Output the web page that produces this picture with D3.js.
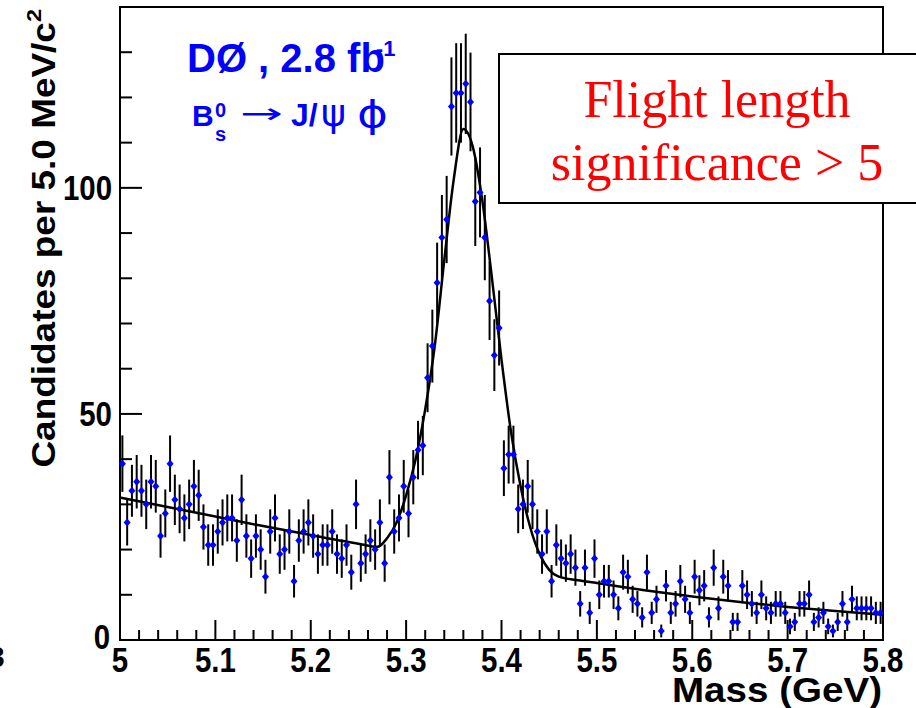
<!DOCTYPE html>
<html lang="en">
<head>
<meta charset="UTF-8">
<title>Bs mass</title>
<style>
  body { margin: 0; background: #fff; }
  text { font-family: "Liberation Sans", Arial, sans-serif; }
</style>
</head>
<body>
<script src="https://d3js.org/d3.v7.min.js"></script>
<script>

    // bin width 5 MeV, first bin starts at 5.000 GeV
    var binStart = 5.0,
        binWidth = 0.005;

    // candidates per bin
    var counts = [
        39, 26, 33, 35, 33, 30, 35, 34, 23, 28,
        39, 31, 29, 27, 30, 34, 32, 25, 21, 21,
        24, 26, 27, 27, 22, 31, 23, 18, 23, 20,
        14, 24, 27, 19, 20, 24, 13, 22, 24, 26,
        23, 19, 21, 21, 24, 19, 18, 21, 15, 30,
        17, 19, 22, 20, 26, 17, 36, 24, 27, 34,
        28, 36, 42, 43, 58, 65, 79, 89, 93, 118,
        121, 121, 123, 119, 97, 99, 89, 75, 63, 69,
        38, 41, 41, 29, 30, 34, 30, 24, 19, 24,
        13, 21, 18, 17, 19, 16, 8, 16, 6, 18,
        10, 13, 13, 10, 7, 15, 14, 9, 8, 5,
        15, 6, 9, 2, 12, 6, 8, 13, 9, 6,
        14, 11, 12, 5, 16, 7, 14, 12, 4, 4,
        12, 10, 8, 6, 10, 7, 6, 8, 8, 6,
        3, 4, 8, 8, 10, 4, 5, 6, 3, 2,
        4, 8, 4, 9, 7, 7, 7, 7, 6, 6
    ];

    // fitted curve
    var fitMass = [5.0, 5.05, 5.10, 5.15, 5.20, 5.25, 5.27, 5.28, 5.29, 5.30,
                   5.31, 5.32, 5.33, 5.34, 5.35, 5.36, 5.37, 5.38, 5.39,
                   5.40, 5.41, 5.42, 5.43, 5.44, 5.45, 5.46, 5.48, 5.50, 5.55,
                   5.60, 5.65, 5.70, 5.75, 5.80];
    var fitValue = [31.5, 29.4, 27.3, 25.2, 23.2, 21.3, 20.6, 22.5, 26, 32,
                    40, 51, 65, 84, 102, 113, 109, 97, 80,
                    62, 46, 34, 25, 19, 15.5, 14, 13.2, 12.6, 11,
                    9.6, 8.4, 7.3, 6.4, 5.6];

    var xTicks = [5, 5.1, 5.2, 5.3, 5.4, 5.5, 5.6, 5.7, 5.8];
    var yTicks = [0, 50, 100];

    var width = 916,
        height = 708,
        padLeft = 120,
        padRight = 883,
        padTop = 7,
        padBottom = 640;

    var svg = d3.select("body")
        .append("svg")
        .attr("width", width)
        .attr("height", height);

    svg.append("rect")
        .attr("width", width)
        .attr("height", height)
        .attr("fill", "#fff");

    var x = d3.scaleLinear().domain([5.0, 5.8]).range([padLeft, padRight]);
    var y = d3.scaleLinear().domain([0, 140]).range([padBottom, padTop]);

    var data = counts.map(function (c, i) {
        return {m: binStart + binWidth * (i + 0.5), n: c};
    });

    // frame
    svg.append("rect")
        .attr("x", padLeft)
        .attr("y", padTop)
        .attr("width", padRight - padLeft)
        .attr("height", padBottom - padTop)
        .attr("fill", "none")
        .attr("stroke", "#000")
        .attr("stroke-width", 2);

    // x axis ticks (inside, pointing up)
    var xMinor = d3.range(0, 41).map(function (i) { return 5.0 + i * 0.02; });
    svg.append("g").selectAll("line")
        .data(xMinor)
        .enter()
        .append("line")
        .attr("x1", function (d) { return x(d); })
        .attr("x2", function (d) { return x(d); })
        .attr("y1", padBottom)
        .attr("y2", function (d, i) { return i % 5 === 0 ? padBottom - 20 : padBottom - 10; })
        .attr("stroke", "#000")
        .attr("stroke-width", 2);

    // y axis ticks (inside, pointing right)
    var yMinor = d3.range(0, 15).map(function (i) { return i * 10; });
    svg.append("g").selectAll("line")
        .data(yMinor)
        .enter()
        .append("line")
        .attr("y1", function (d) { return y(d); })
        .attr("y2", function (d) { return y(d); })
        .attr("x1", padLeft)
        .attr("x2", function (d) { return d % 50 === 0 ? padLeft + 22 : padLeft + 12; })
        .attr("stroke", "#000")
        .attr("stroke-width", 2);

    // tick labels
    svg.append("g").selectAll("text")
        .data(xTicks)
        .enter()
        .append("text")
        .attr("transform", function (d) { return "translate(" + x(d) + ",672) scale(0.92,1.1)"; })
        .attr("text-anchor", "middle")
        .attr("font-size", "32px")
        .attr("font-weight", "bold")
        .text(function (d) { return d === 5 ? "5" : d3.format(".1f")(d); });

    svg.append("g").selectAll("text")
        .data(yTicks)
        .enter()
        .append("text")
        .attr("transform", function (d) {
            return "translate(" + (d === 0 ? 110 : 112) + "," + (y(d) + (d === 0 ? 9 : 12)) + ") scale(0.92,1.1)";
        })
        .attr("text-anchor", "end")
        .attr("font-size", "32px")
        .attr("font-weight", "bold")
        .text(function (d) { return d; });

    // stray glyph from the neighbouring panel
    svg.append("text")
        .attr("x", -12)
        .attr("y", 667)
        .attr("font-size", "30px")
        .attr("font-weight", "bold")
        .text("3");

    // axis titles
    svg.append("text")
        .attr("x", 882)
        .attr("y", 702)
        .attr("text-anchor", "end")
        .attr("font-size", "35px")
        .attr("font-weight", "bold")
        .attr("textLength", 210)
        .attr("lengthAdjust", "spacingAndGlyphs")
        .text("Mass  (GeV)");

    var ytitle = svg.append("text")
        .attr("transform", "translate(55,9) rotate(-90) scale(1.12,1)")
        .attr("text-anchor", "end")
        .attr("font-size", "33px")
        .attr("font-weight", "bold");
    ytitle.append("tspan").text("Candidates per 5.0 MeV/c");
    ytitle.append("tspan").attr("font-size", "21px").attr("dy", -14).text("2");

    // fit curve
    var fitLine = d3.line()
        .x(function (d, i) { return x(fitMass[i]); })
        .y(function (d) { return y(d); })
        .curve(d3.curveMonotoneX);

    svg.append("path")
        .datum(fitValue)
        .attr("d", fitLine)
        .attr("fill", "none")
        .attr("stroke", "#000")
        .attr("stroke-width", 2.5);

    // error bars
    svg.append("g").selectAll("line")
        .data(data)
        .enter()
        .append("line")
        .attr("x1", function (d) { return x(d.m); })
        .attr("x2", function (d) { return x(d.m); })
        .attr("y1", function (d) { return y(Math.max(0, d.n - Math.sqrt(d.n))); })
        .attr("y2", function (d) { return y(d.n + Math.sqrt(d.n)); })
        .attr("stroke", "#000")
        .attr("stroke-width", 2);

    // markers
    svg.append("g").selectAll("path")
        .data(data)
        .enter()
        .append("path")
        .attr("transform", function (d) { return "translate(" + x(d.m) + "," + y(d.n) + ")"; })
        .attr("d", "M0,-4L3.5,0L0,4L-3.5,0Z")
        .attr("fill", "#0000ff");

    // experiment label
    var blue = "#0000ff";
    var l1 = svg.append("text")
        .attr("x", 187)
        .attr("y", 72)
        .attr("font-size", "40px")
        .attr("font-weight", "bold")
        .attr("fill", blue);
    l1.append("tspan").text("D\u00d8 , 2.8 fb");
    l1.append("tspan").attr("font-size", "22px").attr("dx", -9).attr("dy", -16).text("-1");

    var decay = svg.append("g").attr("fill", blue);
    decay.append("text").attr("x", 192).attr("y", 126)
        .attr("font-size", "30px").attr("font-weight", "bold").text("B");
    decay.append("text").attr("x", 215).attr("y", 117)
        .attr("font-size", "20px").attr("font-weight", "bold").text("0");
    decay.append("text").attr("x", 215).attr("y", 141)
        .attr("font-size", "20px").attr("font-weight", "bold").text("s");
    decay.append("text").attr("x", 240).attr("y", 123)
        .attr("font-size", "28px")
        .attr("textLength", 43).attr("lengthAdjust", "spacingAndGlyphs")
        .style("font-family", "'DejaVu Sans', sans-serif").text("\u2192");
    decay.append("text").attr("x", 291).attr("y", 126)
        .attr("font-size", "32px").attr("font-weight", "bold").text("J/");
    decay.append("text").attr("x", 321).attr("y", 126)
        .attr("font-size", "38px")
        .attr("textLength", 25).attr("lengthAdjust", "spacingAndGlyphs")
        .style("font-family", "'DejaVu Sans', sans-serif").text("\u03c8");
    decay.append("text").attr("x", 357).attr("y", 127)
        .attr("font-size", "38px")
        .attr("textLength", 31).attr("lengthAdjust", "spacingAndGlyphs")
        .style("font-family", "'DejaVu Sans', sans-serif").text("\u03d5");

    // cut label box
    svg.append("rect")
        .attr("x", 499)
        .attr("y", 54)
        .attr("width", 440)
        .attr("height", 149)
        .attr("fill", "#fff")
        .attr("stroke", "#000")
        .attr("stroke-width", 2);

    svg.append("g").selectAll("text")
        .data(["Flight length", "significance > 5"])
        .enter()
        .append("text")
        .attr("x", 717)
        .attr("y", function (d, i) { return i === 0 ? 117 : 180; })
        .attr("text-anchor", "middle")
        .attr("font-size", "52px")
        .attr("fill", "#ff0000")
        .style("font-family", "'Liberation Serif', 'Times New Roman', serif")
        .text(function (d) { return d; });

</script>
</body>
</html>
